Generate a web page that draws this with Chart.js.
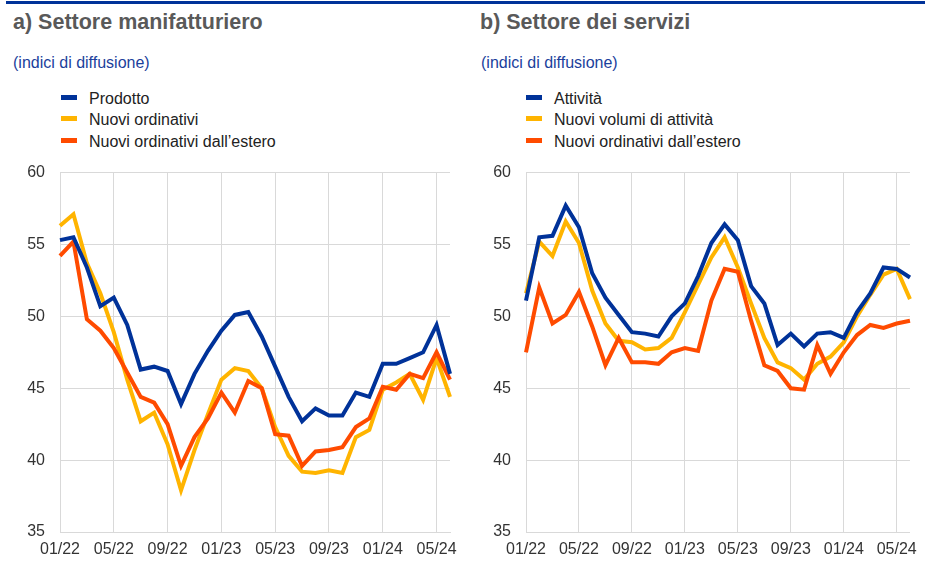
<!DOCTYPE html>
<html>
<head>
<meta charset="utf-8">
<script src="https://cdn.jsdelivr.net/npm/chart.js@4.4.0/dist/chart.umd.min.js"></script>
<style>
body{margin:0;width:925px;height:578px;background:#fff;font-family:"Liberation Sans",Arial,sans-serif;position:relative;overflow:hidden;}
.topline{position:absolute;left:6px;right:0;top:1px;height:3px;background:#003299;}
.title{position:absolute;top:12px;font-size:21.5px;line-height:21px;font-weight:bold;color:#595959;white-space:nowrap;}
.sub{position:absolute;top:55px;font-size:16px;line-height:16px;color:#1b3f9c;white-space:nowrap;}
.leg{position:absolute;font-size:16px;line-height:16px;color:#222;white-space:nowrap;}
.leg i{position:absolute;width:16px;height:5px;top:4px;}
.box{position:absolute;top:148px;height:412px;}
</style>
</head>
<body>
<div class="topline"></div>

<div class="title" style="left:13px">a) Settore manifatturiero</div>
<div class="sub" style="left:13px">(indici di diffusione)</div>
<div id="legA"></div>
<div class="box" style="left:0;width:465px"><canvas id="chartA"></canvas></div>

<div class="title" style="left:480px">b) Settore dei servizi</div>
<div class="sub" style="left:481px">(indici di diffusione)</div>
<div id="legB"></div>
<div class="box" style="left:465px;width:460px"><canvas id="chartB"></canvas></div>

<script>
// mesi
const months=['01/22','02/22','03/22','04/22','05/22','06/22','07/22','08/22','09/22','10/22','11/22','12/22',
'01/23','02/23','03/23','04/23','05/23','06/23','07/23','08/23','09/23','10/23','11/23','12/23',
'01/24','02/24','03/24','04/24','05/24','06/24'];

// a) manifattura
const prodotto=[55.3,55.5,53.4,50.7,51.3,49.4,46.3,46.5,46.2,43.9,46.0,47.6,
49.0,50.1,50.3,48.6,46.5,44.4,42.7,43.6,43.1,43.1,44.7,44.4,
46.7,46.7,47.1,47.5,49.4,46.0];
const nuoviOrdinativi=[56.3,57.1,53.7,51.6,48.9,45.6,42.7,43.3,41.1,37.9,40.7,43.2,
45.6,46.4,46.2,45.0,42.3,40.3,39.2,39.1,39.3,39.1,41.6,42.1,
44.9,45.4,46.0,44.2,47.1,44.4];
const esteroManif=[54.2,55.2,49.8,49.0,47.8,46.1,44.4,44.0,42.5,39.6,41.6,42.9,
44.7,43.3,45.5,45.0,41.8,41.7,39.6,40.6,40.7,40.9,42.3,42.9,
45.1,44.9,46.0,45.7,47.5,45.6];

// b) servizi
const attivita=[51.1,55.5,55.6,57.7,56.2,53.0,51.3,50.1,48.9,48.8,48.6,50.0,
50.9,52.8,55.1,56.4,55.3,52.1,50.9,48.0,48.8,47.9,48.8,48.9,
48.5,50.3,51.6,53.4,53.3,52.7];
const nuoviVolumi=[51.6,55.2,54.2,56.6,55.1,51.8,49.5,48.3,48.2,47.7,47.8,48.5,
50.3,52.2,54.1,55.5,53.4,50.9,48.5,46.8,46.4,45.6,46.7,47.2,
48.2,50.0,51.5,52.9,53.3,51.2];
const esteroServ=[47.5,52.0,49.5,50.1,51.7,49.3,46.6,48.5,46.8,46.8,46.7,47.5,
47.8,47.6,51.1,53.3,53.1,49.7,46.6,46.2,45.0,44.9,48.0,46.0,
47.5,48.7,49.4,49.2,49.5,49.7];

const yTicks=[35,40,45,50,55,60];

const BLUE='#003299', YELLOW='#FFB400', ORANGE='#FF4B00';

function legend(id,x,items){
    let el=document.getElementById(id);
    items.forEach((it,i)=>{
        let d=document.createElement('div');
        d.className='leg';
        d.style.left=(x+28)+'px';
        d.style.top=(90.5+i*21.5)+'px';
        d.innerHTML='<i style="left:-28px;background:'+it[1]+'"></i>'+it[0];
        el.appendChild(d);
    });
}
legend('legA',61,[['Prodotto',BLUE],['Nuovi ordinativi',YELLOW],['Nuovi ordinativi dall\u2019estero',ORANGE]]);
legend('legB',526,[['Attività',BLUE],['Nuovi volumi di attività',YELLOW],['Nuovi ordinativi dall\u2019estero',ORANGE]]);

function makeChart(id,series,yWidth,padRight){
    const ds=series.map(s=>({
        label:s[0],data:s[1],borderColor:s[2],backgroundColor:s[2],
        borderWidth:4,pointRadius:0,tension:0,order:s[3],
        borderJoinStyle:'miter',borderCapStyle:'butt'
    }));
    return new Chart(document.getElementById(id),{
        type:'line',
        data:{labels:months,datasets:ds},
        options:{
            responsive:true,maintainAspectRatio:false,animation:false,
            layout:{padding:{top:0,right:padRight,bottom:0,left:0}},
            plugins:{legend:{display:false},tooltip:{enabled:false}},
            scales:{
                x:{
                    offset:false,
                    grid:{color:'#d9d9d9',lineWidth:1,drawTicks:false},
                    border:{color:'#d9d9d9'},
                    ticks:{
                        autoSkip:false,maxRotation:0,padding:8,color:'#333',
                        font:{family:'"Liberation Sans", Arial',size:16},
                        callback:function(v,i){return i%4===0?months[i]:null;}
                    },
                    afterFit:function(s){s.height=28;}
                },
                y:{
                    min:yTicks[0],max:yTicks[yTicks.length-1],
                    grid:{color:'#d9d9d9',lineWidth:1,drawTicks:false},
                    border:{display:false},
                    afterBuildTicks:function(s){s.ticks=yTicks.map(v=>({value:v}));},
                    ticks:{padding:15,color:'#333',font:{family:'"Liberation Sans", Arial',size:16}},
                    afterFit:function(s){s.width=yWidth;}
                }
            }
        }
    });
}

makeChart('chartA',[
    ['Prodotto',prodotto,BLUE,0],
    ['Nuovi ordinativi',nuoviOrdinativi,YELLOW,2],
    ['Nuovi ordinativi dall\u2019estero',esteroManif,ORANGE,1]
],60,12);

makeChart('chartB',[
    ['Attività',attivita,BLUE,0],
    ['Nuovi volumi di attività',nuoviVolumi,YELLOW,2],
    ['Nuovi ordinativi dall\u2019estero',esteroServ,ORANGE,1]
],61,7);
</script>
</body>
</html>
